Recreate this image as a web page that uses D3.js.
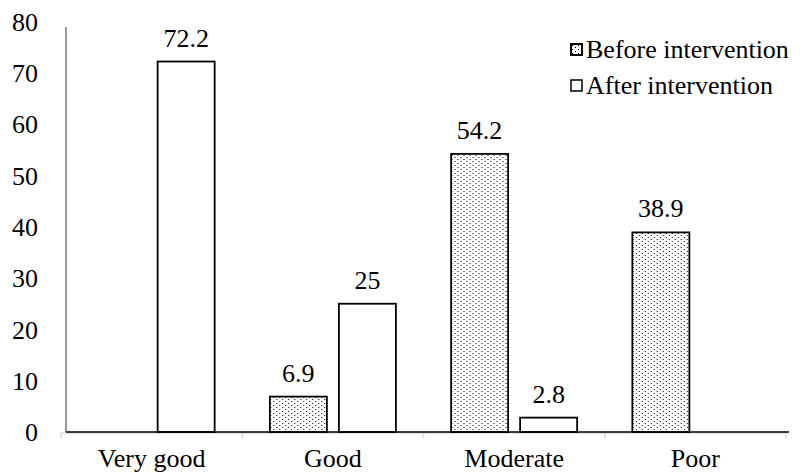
<!DOCTYPE html>
<html>
<head>
<meta charset="utf-8">
<script src="https://cdn.jsdelivr.net/npm/d3@7"></script>
<style>
  html, body { margin: 0; padding: 0; background: #fff; }
</style>
</head>
<body>
<svg id="chart" width="806" height="474"></svg>
<script>
const categories = ["Very good", "Good", "Moderate", "Poor"];
const seriesNames = ["Before intervention", "After intervention"];
const beforeValues = [0, 6.9, 54.2, 38.9];
const afterValues = [72.2, 25, 2.8, 0];
const yTicks = [0, 10, 20, 30, 40, 50, 60, 70, 80];

const FONT = "Liberation Serif";
const fontSize = 26;
const svg = d3.select("#chart");

function serif(sel) {
  return sel.attr("font-family", FONT)
    .style("font-family", FONT, "important")
    .style("font-size", fontSize + "px", "important")
    .attr("fill", "#000");
}

const defs = svg.append("defs");
const pat = defs.append("pattern")
  .attr("id", "dots").attr("patternUnits", "userSpaceOnUse")
  .attr("width", 6).attr("height", 4);
pat.append("rect").attr("width", 6).attr("height", 4).attr("fill", "#fff");
pat.append("rect").attr("x", 1).attr("y", 1).attr("width", 1).attr("height", 1).attr("fill", "#000");
pat.append("rect").attr("x", 4).attr("y", 3).attr("width", 1).attr("height", 1).attr("fill", "#000");

const y = d3.scaleLinear().domain([0, 80]).range([432, 21.5]);
const x0 = d3.scaleBand().domain(categories).range([61, 786]).paddingInner(0).paddingOuter(0);
const x1 = d3.scaleBand().domain(seriesNames).range([0, x0.bandwidth()])
  .paddingInner(0.174).paddingOuter(0.4);

// light grey category axis
const xAxis = d3.axisBottom(x0).tickSizeOuter(0).tickSizeInner(0).tickFormat("");
const gx = svg.append("g").attr("transform", `translate(0,${y(0) + 0.5})`).call(xAxis);
gx.select(".domain").attr("stroke", "#d9d9d9").attr("stroke-width", 1.5);
const boundaries = [x0.range()[0]].concat(categories.map(c => x0(c) + x0.bandwidth()));
gx.selectAll("line.bound").data(boundaries).enter().append("line").attr("class", "bound")
  .attr("x1", d => d).attr("x2", d => d).attr("y1", 0).attr("y2", 6)
  .attr("stroke", "#d9d9d9").attr("stroke-width", 1.5);

// category labels
serif(svg.append("g").selectAll("text").data(categories).enter().append("text")
  .attr("x", d => x0(d) + x0.bandwidth() / 2)
  .attr("y", 467)
  .attr("text-anchor", "middle"))
  .text(d => d);

// y axis
const yAxis = d3.axisLeft(y).tickValues(yTicks).tickSize(0).tickPadding(0);
const gy = svg.append("g").attr("transform", "translate(66,0)").call(yAxis);
gy.attr("font-family", FONT).attr("font-size", fontSize);
gy.select(".domain").remove();
serif(gy.selectAll("text")).attr("x", -28).attr("dy", "0.34em");
svg.append("line").attr("x1", 66).attr("x2", 66).attr("y1", y(80) + 5.5).attr("y2", y(0))
  .attr("stroke", "#595959").attr("stroke-width", 1.2);

// bars
const data = categories.map((c, i) => ({ cat: c, vals: [
  { s: seriesNames[0], v: beforeValues[i] },
  { s: seriesNames[1], v: afterValues[i] }] }));

const groups = svg.append("g").selectAll("g").data(data).enter().append("g")
  .attr("transform", d => `translate(${x0(d.cat)},0)`);
groups.selectAll("rect").data(d => d.vals.filter(e => e.v > 0)).enter().append("rect")
  .attr("x", d => x1(d.s))
  .attr("y", d => y(d.v))
  .attr("width", x1.bandwidth())
  .attr("height", d => y(0) - y(d.v))
  .attr("fill", d => d.s === seriesNames[0] ? "url(#dots)" : "#fff")
  .attr("stroke", "#000").attr("stroke-width", 1.8);
serif(groups.selectAll("text").data(d => d.vals.filter(e => e.v > 0)).enter().append("text")
  .attr("x", d => x1(d.s) + x1.bandwidth() / 2)
  .attr("y", d => y(d.v) - 15)
  .attr("text-anchor", "middle"))
  .text(d => d.v);

// baseline
svg.append("line").attr("x1", 66).attr("x2", 789).attr("y1", y(0)).attr("y2", y(0))
  .attr("stroke", "#000").attr("stroke-width", 1.5);

// legend
const legend = svg.append("g").selectAll("g").data(seriesNames).enter().append("g")
  .attr("transform", (d, i) => `translate(571,${44 + i * 36})`);
legend.append("rect").attr("width", 11).attr("height", 11)
  .attr("fill", (d, i) => i === 0 ? "url(#dots)" : "#fff")
  .attr("stroke", "#000").attr("stroke-width", (d, i) => i === 0 ? 2 : 1.5);
serif(legend.append("text").attr("x", 15).attr("y", 13.5)).text(d => d);
</script>
</body>
</html>
